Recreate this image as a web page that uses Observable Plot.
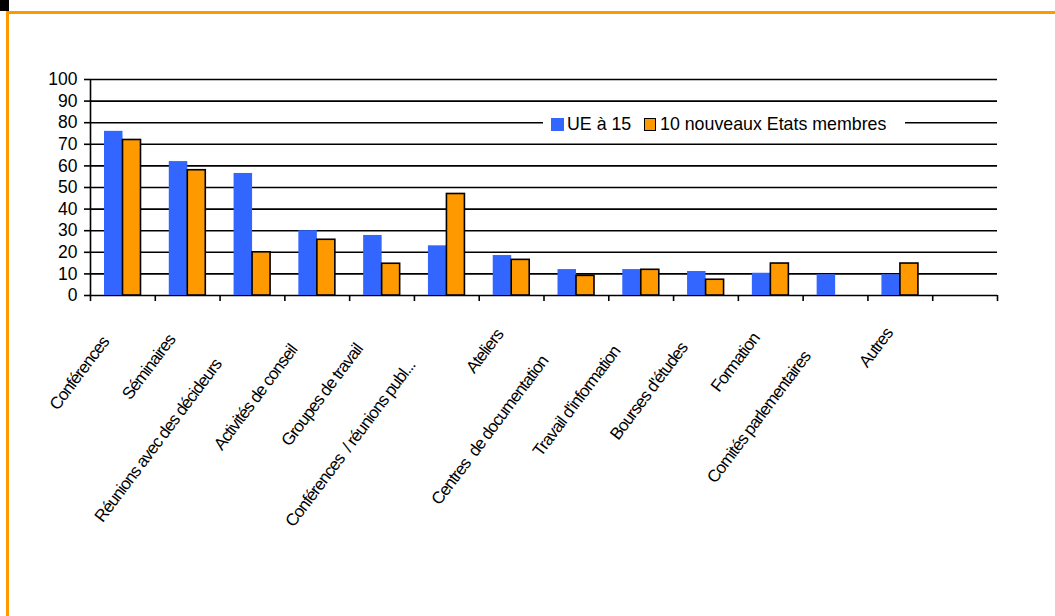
<!DOCTYPE html>
<html>
<head>
<meta charset="utf-8">
<script src="https://cdn.jsdelivr.net/npm/d3@7"></script>
<script src="https://cdn.jsdelivr.net/npm/@observablehq/plot@0.6"></script>
<style>
html, body { margin:0; padding:0; background:#fff; width:1055px; height:616px; overflow:hidden; }
#wrap { position:relative; width:1055px; height:616px; }
#chart { position:absolute; left:0; top:0; }
#chart g.catlabel text { letter-spacing:-0.9px; }
.corner { position:absolute; left:0; top:0; width:9px; height:11px; background:#000; }
.frameTop { position:absolute; left:6px; top:11px; width:1049px; height:3px; background:#FF9900; }
.frameLeft { position:absolute; left:6px; top:11px; width:3px; height:605px; background:#FF9900; }
#legend { position:absolute; left:543px; top:113px; width:362px; height:22px; background:#fff;
  font-family:'Liberation Sans', Arial, sans-serif; font-size:17.8px; line-height:17.8px; color:#000; }
#legend .sw { position:absolute; top:5px; box-sizing:border-box; }
#legend .lb { position:absolute; top:3px; white-space:nowrap; }
</style>
</head>
<body>
<div id="wrap">
  <div id="chart"></div>
  <div id="legend"></div>
  <div class="corner"></div>
  <div class="frameTop"></div>
  <div class="frameLeft"></div>
</div>
<script>
// ---- data ----
const categories = [
  "Conférences",
  "Séminaires",
  "Réunions avec des décideurs",
  "Activités de conseil",
  "Groupes de travail",
  "Conférences\u00a0 / réunions publ...",
  "Ateliers",
  "Centres\u00a0 de documentation",
  "Travail d'information",
  "Bourses d'études",
  "Formation",
  "Comités parlementaires",
  "Autres"
];
const emptyCategory = " ";
const seriesNames = ["UE à 15", "10 nouveaux Etats membres"];
const ue15     = [76, 62, 56.5, 30, 27.8, 23, 18.5, 12, 12, 11.1, 10.3, 9.6, 9.6];
const nouveaux = [72, 58, 20, 25.8, 14.7, 47, 16.5, 9.1, 11.9, 7.3, 14.8, null, 14.8];
const yTicks = [0, 10, 20, 30, 40, 50, 60, 70, 80, 90, 100];
const colors = ["#3366FF", "#FF9900"];

// ---- layout ----
const W = 1055, H = 616;
const mLeft = 90, mRight = 58, mTop = 79, mBottom = 321;
const domain = [...categories, emptyCategory];
const bw = (W - mLeft - mRight) / domain.length;

const rows = categories.map((c, i) => ({category: c, ue: ue15[i], nv: nouveaux[i]}));

const labelFont = 17;
const letterSp = -0.9;
const angle = 53;
const ctx = document.createElement("canvas").getContext("2d");
ctx.font = `${labelFont}px 'Liberation Sans'`;
const cosA = Math.cos(angle * Math.PI / 180), sinA = Math.sin(angle * Math.PI / 180);

const labelMarks = categories.map(c => {
  const L = ctx.measureText(c).width + letterSp * c.length;
  return Plot.text([c], {
    x: d => d, y: () => 0, text: d => d,
    rotate: -angle, textAnchor: "end", fontSize: labelFont,
    className: "catlabel",
    dx: -4.5 - 0.25 * L * cosA,
    dy: 26 + 0.25 * L * sinA
  });
});

const plot = Plot.plot({
  width: W, height: H,
  marginLeft: mLeft, marginRight: mRight, marginTop: mTop, marginBottom: mBottom,
  style: {fontFamily: "'Liberation Sans', Arial, sans-serif", fontSize: "17px", color: "#000", background: "transparent"},
  x: {type: "band", domain, padding: 0, round: false, axis: null},
  y: {domain: [0, 100], axis: null},
  marks: [
    Plot.gridY(yTicks, {stroke: "#000", strokeOpacity: 1, strokeWidth: 1.6}),
    Plot.ruleX([domain[0]], {x: d => d, y1: 0, y2: 100, dx: -bw / 2, stroke: "#000", strokeWidth: 1.6}),
    Plot.ruleX(domain, {x: d => d, y1: 0, y2: -2.8, dx: -bw / 2, stroke: "#000", strokeWidth: 1.6}),
    Plot.ruleX([domain[domain.length - 1]], {x: d => d, y1: 0, y2: -2.8, dx: bw / 2, stroke: "#000", strokeWidth: 1.6}),
    Plot.axisY(yTicks, {tickSize: 6, tickPadding: 7, fontSize: 17.5, strokeWidth: 1.6}),
    Plot.barY(rows, {x: "category", y: "ue", fill: colors[0], insetLeft: 14, insetRight: bw - 32.5}),
    Plot.barY(rows.filter(d => d.nv != null), {x: "category", y: "nv", fill: colors[1], stroke: "#000", strokeWidth: 1.6, insetLeft: 32.5, insetRight: bw - 50.5}),
    ...labelMarks
  ]
});
document.getElementById("chart").appendChild(plot);

// ---- legend (inside plot area, as in the original) ----
const legend = document.getElementById("legend");
const items = [
  {sw: {left: 8, w: 12.5, h: 13, bg: colors[0], border: "none"}, text: seriesNames[0], tx: 24},
  {sw: {left: 101, w: 11.5, h: 12.5, bg: colors[1], border: "1.6px solid #000"}, text: seriesNames[1], tx: 117}
];
for (const it of items) {
  const s = document.createElement("div");
  s.className = "sw";
  s.style.left = it.sw.left + "px";
  s.style.width = it.sw.w + "px";
  s.style.height = it.sw.h + "px";
  s.style.background = it.sw.bg;
  s.style.border = it.sw.border;
  legend.appendChild(s);
  const t = document.createElement("div");
  t.className = "lb";
  t.style.left = it.tx + "px";
  t.textContent = it.text;
  legend.appendChild(t);
}
</script>
</body>
</html>
